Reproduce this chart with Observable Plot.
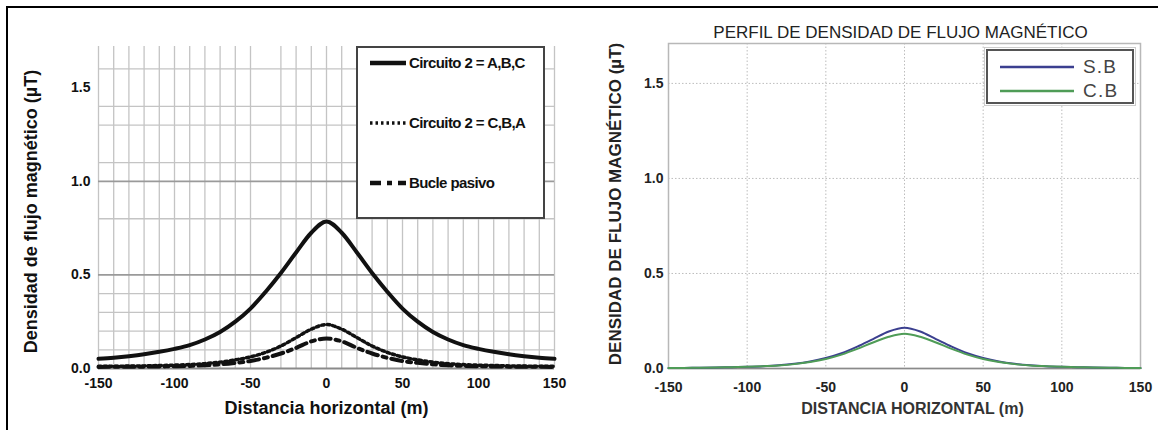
<!DOCTYPE html>
<html><head><meta charset="utf-8">
<script src="https://cdn.jsdelivr.net/npm/d3@7"></script>
<script src="https://cdn.jsdelivr.net/npm/@observablehq/plot@0.6"></script>
<style>
body{margin:0;background:#fff;font-family:"Liberation Sans",Arial,sans-serif}
#wrap{position:relative;width:1158px;height:430px;overflow:hidden;background:#fff}
#frame{position:absolute;left:6px;top:6px;width:1200px;height:500px;border-left:2px solid #000;border-top:2px solid #000;box-sizing:border-box}
.plot{position:absolute;top:0}
.leg{position:absolute;background:#fff;box-sizing:border-box}
.row{position:absolute;display:flex;align-items:center;white-space:nowrap}
#legL{left:356px;top:46px;width:189px;height:173px;border:2px solid #444}
#legL .row{left:12px;font-weight:bold;font-size:15px;color:#111;letter-spacing:-0.6px}
#legR{left:986px;top:49px;width:148px;height:55px;border:2px solid #555;outline:1px solid #ccc;outline-offset:1px}
#legR .row{left:12px;font-size:19px;color:#444;letter-spacing:1.2px}
</style></head>
<body>
<div id="wrap">
  <div id="frame"></div>
  <div id="left" class="plot" style="left:0"></div>
  <div id="right" class="plot" style="left:580px"></div>
  <div id="legL" class="leg"></div>
  <div id="legR" class="leg"></div>
</div>
<script>
// ---- data ----
const distance = [-150,-140,-130,-120,-110,-100,-90,-80,-70,-60,-50,-40,-30,-20,-10,0,10,20,30,40,50,60,70,80,90,100,110,120,130,140,150];
const circuitoABC = [0.052,0.058,0.066,0.076,0.089,0.105,0.125,0.155,0.195,0.250,0.320,0.410,0.510,0.620,0.725,0.785,0.725,0.620,0.510,0.410,0.320,0.250,0.195,0.155,0.125,0.105,0.089,0.076,0.066,0.058,0.052];
const circuitoCBA = [0.012,0.012,0.013,0.014,0.016,0.018,0.021,0.026,0.034,0.046,0.062,0.086,0.120,0.165,0.210,0.235,0.210,0.165,0.120,0.086,0.062,0.046,0.034,0.026,0.021,0.018,0.016,0.014,0.013,0.012,0.012];
const buclePasivo = [0.008,0.009,0.009,0.010,0.011,0.012,0.014,0.017,0.022,0.030,0.040,0.057,0.080,0.110,0.145,0.160,0.145,0.110,0.080,0.057,0.040,0.030,0.022,0.017,0.014,0.012,0.011,0.010,0.009,0.009,0.008];
const sinBucle = [0.002,0.003,0.004,0.005,0.007,0.009,0.012,0.017,0.025,0.037,0.055,0.080,0.115,0.155,0.195,0.215,0.195,0.155,0.115,0.080,0.055,0.037,0.025,0.017,0.012,0.009,0.007,0.005,0.004,0.003,0.002];
const conBucle = [0.002,0.003,0.004,0.005,0.007,0.009,0.012,0.016,0.023,0.034,0.050,0.073,0.103,0.137,0.167,0.183,0.167,0.137,0.103,0.073,0.050,0.034,0.023,0.016,0.012,0.009,0.007,0.005,0.004,0.003,0.002];
const xTicks = [-150,-100,-50,0,50,100,150];
const yTicks = [0,0.5,1.0,1.5];
const gridXLeft = [-150,-140,-130,-120,-110,-100,-90,-80,-70,-60,-50,-30,-20,-10,0,10,20,30,40,50,60,70,80,90,100,110,120,130,140,150];
const gridYLeftMinor = [0.1,0.2,0.3,0.4,0.8,1.1,1.3,1.4,1.6];
const gridYLeftMajor = [0.5,1.0];
const gridXRight = [-100,-50,0,50,100];
const gridYRight = [0.5,1.0,1.5];
const seriesLeft = ["Circuito 2 = A,B,C","Circuito 2 = C,B,A","Bucle pasivo"];
const seriesRight = ["S.B","C.B"];
const colorsRight = ["#3b3f8f","#4f9c57"];

const fmtY = d3.format(".1f");
const fmtX = d => String(d);
const font = "Liberation Sans, Arial, sans-serif";

// ---- left chart ----
const left = Plot.plot({
  width: 580, height: 430,
  marginLeft: 98, marginRight: 26, marginTop: 46, marginBottom: 62,
  x: {domain: [-150, 150]},
  y: {domain: [0, 1.72]},
  style: {fontFamily: font, color: "#111", background: "transparent", overflow: "visible"},
  marks: [
    Plot.ruleX(gridXLeft, {stroke: "#c4c4c4", strokeWidth: 1.3}),
    Plot.ruleY(gridYLeftMinor, {stroke: "#c4c4c4", strokeWidth: 1.3}),
    Plot.ruleY(gridYLeftMajor, {stroke: "#9a9a9a", strokeWidth: 1.8}),
    Plot.ruleY([0], {stroke: "#8a8a8a", strokeWidth: 1.8}),
    Plot.axisX({ticks: xTicks, tickSize: 0, tickPadding: 10, fontSize: 14, fontWeight: "bold", tickFormat: fmtX, label: null}),
    Plot.axisY({ticks: yTicks, tickSize: 0, tickPadding: 8, fontSize: 14, fontWeight: "bold", tickFormat: fmtY, label: null}),
    Plot.line(distance, {x: d => d, y: (d, i) => buclePasivo[i], stroke: "#111", strokeWidth: 4, strokeDasharray: "11,5,4,5", curve: "monotone-x"}),
    Plot.line(distance, {x: d => d, y: (d, i) => circuitoCBA[i], stroke: "#111", strokeWidth: 3.5, strokeDasharray: "2.5,3", curve: "monotone-x"}),
    Plot.line(distance, {x: d => d, y: (d, i) => circuitoABC[i], stroke: "#111", strokeWidth: 4, curve: "monotone-x"}),
    Plot.text(["Densidad de flujo magnético (µT)"], {frameAnchor: "left", textAnchor: "middle", rotate: -90, dx: -67, dy: 4, fontSize: 18, fontWeight: "bold", fill: "#111"}),
    Plot.text(["Distancia horizontal (m)"], {frameAnchor: "bottom", dy: 45, fontSize: 18, fontWeight: "bold", fill: "#111"})
  ]
});
document.getElementById("left").appendChild(left);

// ---- right chart ----
const right = Plot.plot({
  width: 578, height: 430,
  marginLeft: 88, marginRight: 18, marginTop: 43, marginBottom: 62,
  x: {domain: [-150, 150]},
  y: {domain: [0, 1.71]},
  style: {fontFamily: font, color: "#222", background: "transparent", overflow: "visible"},
  marks: [
    Plot.ruleX(gridXRight, {stroke: "#bdbdbd", strokeWidth: 1, strokeDasharray: "1.5,2"}),
    Plot.ruleY(gridYRight, {stroke: "#bdbdbd", strokeWidth: 1, strokeDasharray: "1.5,2"}),
    Plot.frame({stroke: "#b8b8b8", strokeWidth: 1.5}),
    Plot.ruleY([0], {stroke: "#8a8a8a", strokeWidth: 1.5}),
    Plot.axisX({ticks: xTicks, tickSize: 0, tickPadding: 14, fontSize: 14, fontWeight: "bold", tickFormat: fmtX, label: null}),
    Plot.axisY({ticks: yTicks, tickSize: 0, tickPadding: 5, fontSize: 14, fontWeight: "bold", tickFormat: fmtY, label: null}),
    Plot.line(distance, {x: d => d, y: (d, i) => sinBucle[i], stroke: colorsRight[0], strokeWidth: 2, curve: "monotone-x"}),
    Plot.line(distance, {x: d => d, y: (d, i) => conBucle[i], stroke: colorsRight[1], strokeWidth: 2, curve: "monotone-x"}),
    Plot.text(["PERFIL DE DENSIDAD DE FLUJO MAGNÉTICO"], {frameAnchor: "top", dy: -18, dx: -4, fontSize: 17, letterSpacing: "0.3px", fill: "#222"}),
    Plot.text(["DENSIDAD DE FLUJO MAGNÉTICO (µT)"], {frameAnchor: "left", textAnchor: "middle", rotate: -90, dx: -53, dy: -2, fontSize: 17, fontWeight: "bold", fill: "#222"}),
    Plot.text(["DISTANCIA HORIZONTAL (m)"], {frameAnchor: "bottom", dy: 45, dx: 8, fontSize: 16, fontWeight: "bold", fill: "#333"})
  ]
});
document.getElementById("right").appendChild(right);

// ---- legends (HTML overlays) ----
function sample(color, w, dash) {
  return `<svg width="36" height="10" style="margin-right:3px"><line x1="0" x2="36" y1="5" y2="5" stroke="${color}" stroke-width="${w}" ${dash ? `stroke-dasharray="${dash}"` : ""}/></svg>`;
}
const legL = document.getElementById("legL");
const leftStyles = [["#111", 4.5, null], ["#111", 3.5, "2.5,3"], ["#111", 4.5, "11,6,5,6"]];
const leftRowsY = [16, 76, 136];
seriesLeft.forEach((s, i) => {
  const r = document.createElement("div");
  r.className = "row";
  r.style.top = (leftRowsY[i] - 10) + "px";
  r.innerHTML = sample(...leftStyles[i]) + `<span>${s}</span>`;
  legL.appendChild(r);
});
const legR = document.getElementById("legR");
const rightRowsY = [16, 40];
seriesRight.forEach((s, i) => {
  const r = document.createElement("div");
  r.className = "row";
  r.style.top = (rightRowsY[i] - 11) + "px";
  r.innerHTML = `<svg width="74" height="10" style="margin-right:9px"><line x1="0" x2="74" y1="5" y2="5" stroke="${colorsRight[i]}" stroke-width="2.5"/></svg><span>${s}</span>`;
  legR.appendChild(r);
});
</script>
</body></html>
